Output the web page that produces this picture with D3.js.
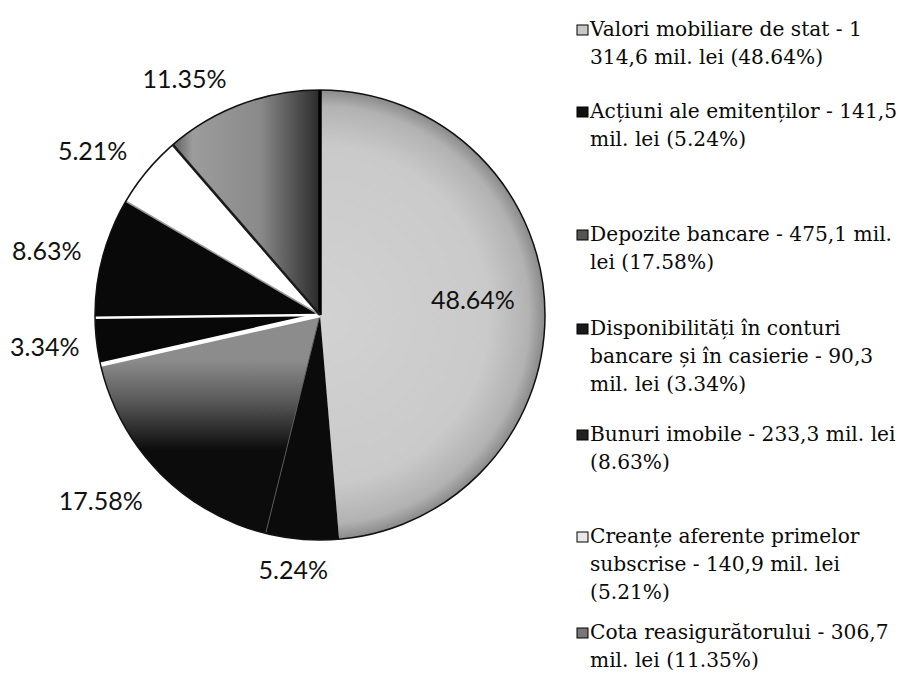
<!DOCTYPE html>
<html><head><meta charset="utf-8">
<script src="https://cdn.jsdelivr.net/npm/d3@7"></script>
<style>body{margin:0;background:#fff}</style>
</head><body><svg id="c" width="905" height="674"></svg>
<script>
// ---- data ----
const categories = ["Valori mobiliare de stat", "Acțiuni ale emitenților", "Depozite bancare",
  "Disponibilități în conturi bancare și în casierie", "Bunuri imobile",
  "Creanțe aferente primelor subscrise", "Cota reasigurătorului"];
const values = [1314.6, 141.5, 475.1, 90.3, 233.3, 140.9, 306.7];
const percentLabels = ["48.64%", "5.24%", "17.58%", "3.34%", "8.63%", "5.21%", "11.35%"];
const legendLines = [
  ["Valori mobiliare de stat - 1", "314,6 mil. lei (48.64%)"],
  ["Acțiuni ale emitenților - 141,5", "mil. lei (5.24%)"],
  ["Depozite bancare - 475,1 mil.", "lei (17.58%)"],
  ["Disponibilități în conturi", "bancare și în casierie - 90,3", "mil. lei (3.34%)"],
  ["Bunuri imobile - 233,3 mil. lei", "(8.63%)"],
  ["Creanțe aferente primelor", "subscrise - 140,9 mil. lei", "(5.21%)"],
  ["Cota reasigurătorului - 306,7", "mil. lei (11.35%)"]
];

// ---- layout & style ----
const cx = 320, cy = 315, R = 225;
const legendX = 577, legendTextX = 590, lineH = 28;
const legendFirstBaseline = [36, 118, 241, 335, 441, 543, 639];
const labelRadius = [153, 262, 262, 262, 262, 262, 262];
const labelNudge = [[0, -10], [-6, -7], [-32, 2], [-15, 0], [-20, 2], [-26, 3], [-44, 9]];
const fills = ["url(#g0)", "#0b0b0b", "url(#g2)", "#080808", "#090909", "#ffffff", "url(#g6)"];
const legendFills = ["#c8c8c8", "#111", "#555", "#1a1a1a", "#222", "#e8e8e8", "#777"];
const sepStyle = [
  {c: "#000", w: 3.5}, null, {c: "#555", w: 1}, {c: "#fff", w: 4.5},
  {c: "#fff", w: 2.5}, {c: "#9a9a9a", w: 1.5}, {c: "#1a1a1a", w: 2.5}
];

const svg = d3.select("#c");
svg.append("rect").attr("width", 905).attr("height", 674).attr("fill", "#fff");
const defs = svg.append("defs");

// gradients in the pie group's local coordinates (origin = pie centre)
const g0 = defs.append("radialGradient").attr("id", "g0")
  .attr("gradientUnits", "userSpaceOnUse").attr("cx", 0).attr("cy", 0).attr("r", R);
[[0, "#d2d2d2"], [0.75, "#cacaca"], [0.93, "#b2b2b2"], [1, "#8a8a8a"]].forEach(s =>
  g0.append("stop").attr("offset", s[0]).attr("stop-color", s[1]));

const g2 = defs.append("linearGradient").attr("id", "g2")
  .attr("gradientUnits", "userSpaceOnUse").attr("x1", 0).attr("y1", 45).attr("x2", 0).attr("y2", 135);
[[0, "#8c8c8c"], [0.45, "#5a5a5a"], [1, "#0c0c0c"]].forEach(s =>
  g2.append("stop").attr("offset", s[0]).attr("stop-color", s[1]));

const g6 = defs.append("linearGradient").attr("id", "g6")
  .attr("gradientUnits", "userSpaceOnUse").attr("x1", -150).attr("y1", 0).attr("x2", 0).attr("y2", 0);
[[0, "#555"], [0.15, "#9c9c9c"], [0.6, "#8a8a8a"], [1, "#2a2a2a"]].forEach(s =>
  g6.append("stop").attr("offset", s[0]).attr("stop-color", s[1]));

const pie = d3.pie().sort(null).value(d => d).startAngle(0).endAngle(2 * Math.PI);
const arcs = pie(values);
const arc = d3.arc().innerRadius(0).outerRadius(R);

const gp = svg.append("g").attr("transform", `translate(${cx},${cy})`);
gp.selectAll("path.slice").data(arcs).join("path").attr("class", "slice")
  .attr("d", arc).attr("fill", (d, i) => fills[i]).attr("stroke", "none");

// separators at slice starts
arcs.forEach((d, i) => {
  const s = sepStyle[i];
  if (!s) return;
  const a = d.startAngle;
  gp.append("line").attr("x1", 0).attr("y1", 0)
    .attr("x2", R * Math.sin(a)).attr("y2", -R * Math.cos(a))
    .attr("stroke", s.c).attr("stroke-width", s.w);
});
gp.append("circle").attr("r", R).attr("fill", "none").attr("stroke", "#111").attr("stroke-width", 1.5);

// data labels
gp.selectAll("text.pl").data(arcs).join("text").attr("class", "pl")
  .attr("x", (d, i) => {
    const m = (d.startAngle + d.endAngle) / 2;
    return labelRadius[i] * Math.sin(m) + labelNudge[i][0];
  })
  .attr("y", (d, i) => {
    const m = (d.startAngle + d.endAngle) / 2;
    return -labelRadius[i] * Math.cos(m) + labelNudge[i][1];
  })
  .attr("text-anchor", "middle").attr("dominant-baseline", "central")
  .attr("font-family", "Lato, 'Open Sans', sans-serif").attr("font-size", 25)
  .attr("fill", "#111").text((d, i) => percentLabels[i]);

// legend
const lg = svg.append("g");
legendLines.forEach((lines, i) => {
  const b = legendFirstBaseline[i];
  lg.append("rect").attr("x", legendX).attr("y", b - 11).attr("width", 11).attr("height", 10)
    .attr("fill", legendFills[i]).attr("stroke", "#000").attr("stroke-width", 1);
  const t = lg.append("text").attr("font-family", "'DejaVu Serif', serif")
    .attr("font-size", 20.2).attr("fill", "#0a0a0a");
  lines.forEach((ln, j) => {
    t.append("tspan").attr("x", legendTextX).attr("y", b + j * lineH).text(ln);
  });
});
</script></body></html>
